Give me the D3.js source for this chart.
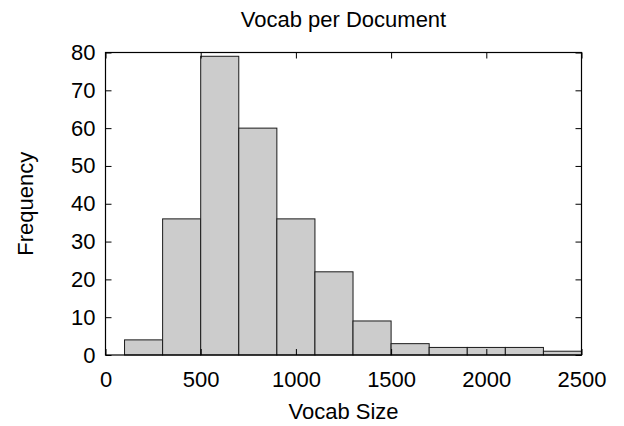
<!DOCTYPE html>
<html>
<head>
<meta charset="utf-8">
<script src="https://cdn.jsdelivr.net/npm/d3@7"></script>
<style>
  body { margin: 0; background: #fff; }
  svg { display: block; font-family: "Liberation Sans", Arial, sans-serif; }
</style>
</head>
<body>
<svg id="chart"></svg>
<script>
// histogram bins (lower edge, width 200) and counts
const binStarts = [100, 300, 500, 700, 900, 1100, 1300, 1500, 1700, 1900, 2100, 2300];
const binWidth = 200;
const counts = [4, 36, 79, 60, 36, 22, 9, 3, 2, 2, 2, 1];
const xTicks = [0, 500, 1000, 1500, 2000, 2500];
const yTicks = [0, 10, 20, 30, 40, 50, 60, 70, 80];

const width = 624, height = 426;
const margin = { top: 52.5, right: 42.5, bottom: 71, left: 105.5 };
const fontSize = 22;

const svg = d3.select('#chart').attr('width', width).attr('height', height);

const x = d3.scaleLinear().domain([0, 2500]).range([margin.left, width - margin.right]);
const y = d3.scaleLinear().domain([0, 80]).range([height - margin.bottom, margin.top]);

// bars
svg.append('g')
  .selectAll('rect')
  .data(counts)
  .join('rect')
  .attr('x', (d, i) => x(binStarts[i]))
  .attr('y', d => y(d))
  .attr('width', (d, i) => x(binStarts[i] + binWidth) - x(binStarts[i]))
  .attr('height', d => y(0) - y(d))
  .attr('fill', '#cccccc')
  .attr('stroke', '#1a1a1a')
  .attr('stroke-width', 1);

// axes with inward ticks (gnuplot look)
const styleAxis = g => {
  g.select('.domain').remove();
  g.selectAll('.tick line').attr('stroke', '#000');
  g.selectAll('.tick text').attr('fill', '#000').style('font-size', fontSize + 'px');
};

svg.append('g')
  .attr('transform', `translate(0,${y(0)})`)
  .call(d3.axisBottom(x).tickValues(xTicks).tickFormat(d3.format('d'))
    .tickSizeInner(-6).tickSizeOuter(0).tickPadding(16))
  .call(styleAxis)
  .attr('font-family', null);

svg.append('g')
  .attr('transform', `translate(0,${y(80)})`)
  .call(d3.axisTop(x).tickValues(xTicks).tickSizeInner(-6).tickSizeOuter(0).tickFormat(''))
  .call(styleAxis);

svg.append('g')
  .attr('transform', `translate(${x(0)},0)`)
  .call(d3.axisLeft(y).tickValues(yTicks).tickFormat(d3.format('d'))
    .tickSizeInner(-6).tickSizeOuter(0).tickPadding(10))
  .call(styleAxis)
  .attr('font-family', null);

svg.append('g')
  .attr('transform', `translate(${x(2500)},0)`)
  .call(d3.axisRight(y).tickValues(yTicks).tickSizeInner(-6).tickSizeOuter(0).tickFormat(''))
  .call(styleAxis);

// frame
svg.append('rect')
  .attr('x', x(0))
  .attr('y', y(80))
  .attr('width', x(2500) - x(0))
  .attr('height', y(0) - y(80))
  .attr('fill', 'none')
  .attr('stroke', '#000')
  .attr('stroke-width', 1.2);

// titles
const midX = (x(0) + x(2500)) / 2;
svg.append('text')
  .attr('x', midX)
  .attr('y', 27)
  .attr('text-anchor', 'middle')
  .style('font-size', fontSize + 'px')
  .text('Vocab per Document');

svg.append('text')
  .attr('x', midX)
  .attr('y', 419)
  .attr('text-anchor', 'middle')
  .style('font-size', fontSize + 'px')
  .text('Vocab Size');

svg.append('text')
  .attr('transform', `translate(33,${(y(0) + y(80)) / 2}) rotate(-90)`)
  .attr('text-anchor', 'middle')
  .style('font-size', fontSize + 'px')
  .text('Frequency');
</script>
</body>
</html>
